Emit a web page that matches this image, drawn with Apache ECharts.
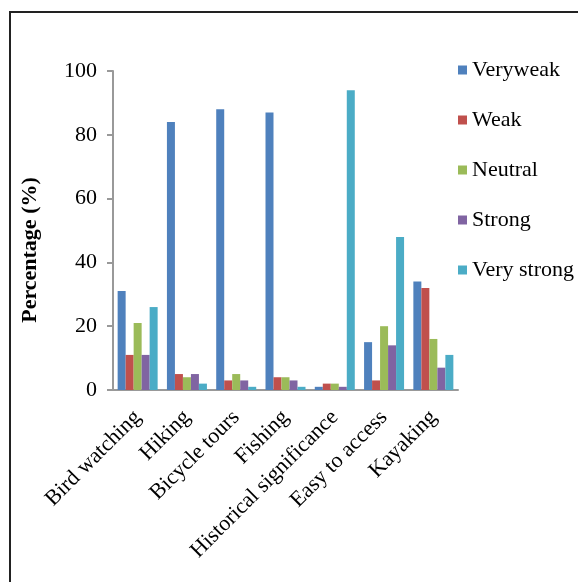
<!DOCTYPE html>
<html><head><meta charset="utf-8">
<script src="https://cdn.jsdelivr.net/npm/echarts@6/dist/echarts.min.js"></script>
<style>html,body{margin:0;padding:0;background:#fff}#c{width:578px;height:582px}</style>
</head><body><div id="c"></div>
<script>
const categories = ["Bird watching","Hiking","Bicycle tours","Fishing","Historical significance","Easy to access","Kayaking"];
const seriesNames = ["Veryweak","Weak","Neutral","Strong","Very strong"];
const veryWeak   = [31, 84, 88, 87, 1, 15, 34];
const weak       = [11, 5, 3, 4, 2, 3, 32];
const neutral    = [21, 4, 5, 4, 2, 20, 16];
const strong     = [11, 5, 3, 3, 1, 14, 7];
const veryStrong = [26, 2, 1, 1, 94, 48, 11];
const yTicks = [0, 20, 40, 60, 80, 100];
const yTitle = 'Percentage (%)';
const colors = ["#4F81BD","#C0504D","#9BBB59","#8064A2","#4BACC6"];
const values = [veryWeak, weak, neutral, strong, veryStrong];
const font = "'Liberation Serif','Times New Roman',serif";

const chart = echarts.init(document.getElementById('c'), null, {renderer:'canvas'});
chart.setOption({
  animation:false,
  color: colors,
  graphic:[
    {type:'rect', shape:{x:10,y:12,width:700,height:700}, style:{fill:'none', stroke:'#222', lineWidth:2}, silent:true},
    {type:'text', x:30, y:250, rotation:Math.PI/2, style:{text:yTitle, fontFamily:font, fontSize:22, fontWeight:'bold', fill:'#000', align:'center', verticalAlign:'middle'}}
  ],
  legend:{
    orient:'vertical', left:453, top:54, itemWidth:9, itemHeight:9, itemGap:28,
    icon:'rect',
    textStyle:{fontFamily:font, fontSize:22, color:'#000'},
    data: seriesNames
  },
  grid:{left:113, right:120, top:71, bottom:192},
  xAxis:{
    type:'category', data:categories,
    axisLine:{lineStyle:{color:'#999', width:2}},
    axisTick:{show:false},
    axisLabel:{rotate:45, interval:0, margin:24, fontFamily:font, fontSize:22, color:'#000'}
  },
  yAxis:{
    type:'value', min:yTicks[0], max:yTicks[yTicks.length-1], interval:20,
    axisLine:{show:true, lineStyle:{color:'#999', width:2}},
    axisTick:{show:true, inside:false, length:6, lineStyle:{color:'#999', width:2}},
    splitLine:{show:false},
    axisLabel:{fontFamily:font, fontSize:22, color:'#000', margin:16}
  },
  series: seriesNames.map((n,i)=>({
    name:n, type:'bar', data:values[i], barWidth:8, barGap:'0%',
    itemStyle:{color:colors[i]}
  }))
});
</script></body></html>
